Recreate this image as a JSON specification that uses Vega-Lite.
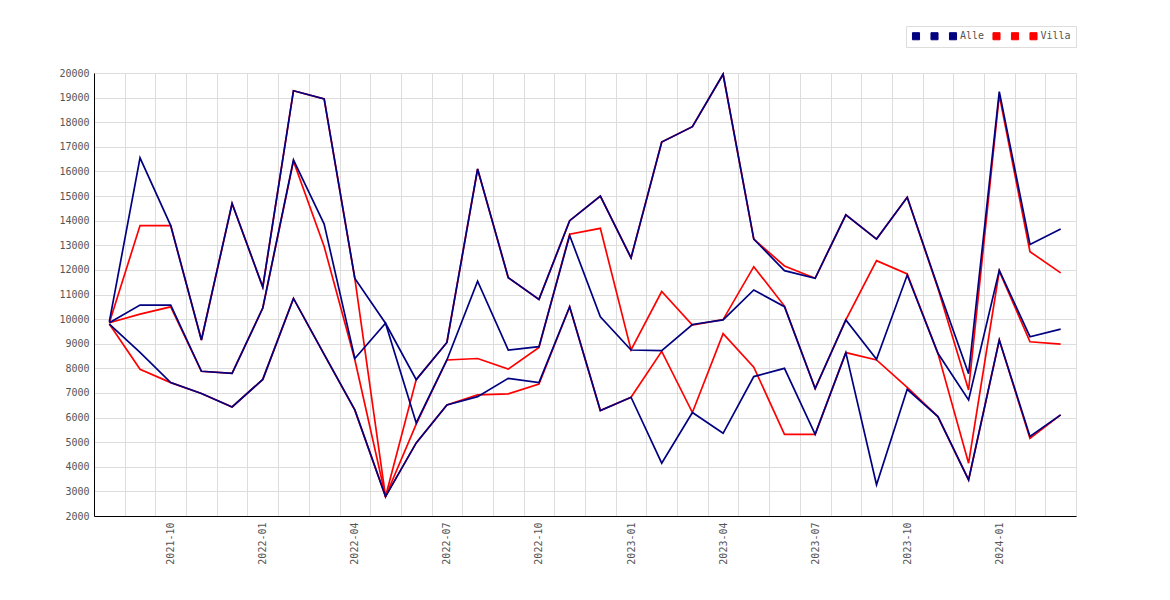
{
  "$schema": "https://vega.github.io/schema/vega-lite/v6.json",
  "width": 982,
  "height": 443,
  "autosize": {"type": "none"},
  "padding": {"left": 94, "top": 73, "right": 94, "bottom": 84},
  "config": {
    "view": {"stroke": "#dddddd"},
    "axis": {
      "labelFont": "DejaVu Sans Mono",
      "labelFontSize": 10,
      "labelColor": "#555555",
      "gridColor": "#dddddd",
      "gridWidth": 1,
      "domainColor": "#000000",
      "domainWidth": 1,
      "ticks": false
    }
  },
  "data": {
    "values": [
      {"month": "2021-08", "group": "Alle", "series": "alle_1", "value": 9900},
      {"month": "2021-09", "group": "Alle", "series": "alle_1", "value": 16550},
      {"month": "2021-10", "group": "Alle", "series": "alle_1", "value": 13800},
      {"month": "2021-11", "group": "Alle", "series": "alle_1", "value": 9150},
      {"month": "2021-12", "group": "Alle", "series": "alle_1", "value": 14700},
      {"month": "2022-01", "group": "Alle", "series": "alle_1", "value": 11300},
      {"month": "2022-02", "group": "Alle", "series": "alle_1", "value": 19280},
      {"month": "2022-03", "group": "Alle", "series": "alle_1", "value": 18950},
      {"month": "2022-04", "group": "Alle", "series": "alle_1", "value": 11650},
      {"month": "2022-05", "group": "Alle", "series": "alle_1", "value": 9830},
      {"month": "2022-06", "group": "Alle", "series": "alle_1", "value": 7540},
      {"month": "2022-07", "group": "Alle", "series": "alle_1", "value": 9050},
      {"month": "2022-08", "group": "Alle", "series": "alle_1", "value": 16100},
      {"month": "2022-09", "group": "Alle", "series": "alle_1", "value": 11680},
      {"month": "2022-10", "group": "Alle", "series": "alle_1", "value": 10800},
      {"month": "2022-11", "group": "Alle", "series": "alle_1", "value": 14000},
      {"month": "2022-12", "group": "Alle", "series": "alle_1", "value": 15000},
      {"month": "2023-01", "group": "Alle", "series": "alle_1", "value": 12490},
      {"month": "2023-02", "group": "Alle", "series": "alle_1", "value": 17195},
      {"month": "2023-03", "group": "Alle", "series": "alle_1", "value": 17820},
      {"month": "2023-04", "group": "Alle", "series": "alle_1", "value": 19950},
      {"month": "2023-05", "group": "Alle", "series": "alle_1", "value": 13250},
      {"month": "2023-06", "group": "Alle", "series": "alle_1", "value": 11970},
      {"month": "2023-07", "group": "Alle", "series": "alle_1", "value": 11660},
      {"month": "2023-08", "group": "Alle", "series": "alle_1", "value": 14240},
      {"month": "2023-09", "group": "Alle", "series": "alle_1", "value": 13250},
      {"month": "2023-10", "group": "Alle", "series": "alle_1", "value": 14950},
      {"month": "2023-11", "group": "Alle", "series": "alle_1", "value": 11300},
      {"month": "2023-12", "group": "Alle", "series": "alle_1", "value": 7780},
      {"month": "2024-01", "group": "Alle", "series": "alle_1", "value": 19240},
      {"month": "2024-02", "group": "Alle", "series": "alle_1", "value": 13035},
      {"month": "2024-03", "group": "Alle", "series": "alle_1", "value": 13660},

      {"month": "2021-08", "group": "Alle", "series": "alle_2", "value": 9850},
      {"month": "2021-09", "group": "Alle", "series": "alle_2", "value": 10570},
      {"month": "2021-10", "group": "Alle", "series": "alle_2", "value": 10570},
      {"month": "2021-11", "group": "Alle", "series": "alle_2", "value": 7880},
      {"month": "2021-12", "group": "Alle", "series": "alle_2", "value": 7800},
      {"month": "2022-01", "group": "Alle", "series": "alle_2", "value": 10450},
      {"month": "2022-02", "group": "Alle", "series": "alle_2", "value": 16470},
      {"month": "2022-03", "group": "Alle", "series": "alle_2", "value": 13860},
      {"month": "2022-04", "group": "Alle", "series": "alle_2", "value": 8400},
      {"month": "2022-05", "group": "Alle", "series": "alle_2", "value": 9830},
      {"month": "2022-06", "group": "Alle", "series": "alle_2", "value": 5780},
      {"month": "2022-07", "group": "Alle", "series": "alle_2", "value": 8340},
      {"month": "2022-08", "group": "Alle", "series": "alle_2", "value": 11545},
      {"month": "2022-09", "group": "Alle", "series": "alle_2", "value": 8745},
      {"month": "2022-10", "group": "Alle", "series": "alle_2", "value": 8880},
      {"month": "2022-11", "group": "Alle", "series": "alle_2", "value": 13400},
      {"month": "2022-12", "group": "Alle", "series": "alle_2", "value": 10095},
      {"month": "2023-01", "group": "Alle", "series": "alle_2", "value": 8745},
      {"month": "2023-02", "group": "Alle", "series": "alle_2", "value": 8720},
      {"month": "2023-03", "group": "Alle", "series": "alle_2", "value": 9780},
      {"month": "2023-04", "group": "Alle", "series": "alle_2", "value": 9970},
      {"month": "2023-05", "group": "Alle", "series": "alle_2", "value": 11185},
      {"month": "2023-06", "group": "Alle", "series": "alle_2", "value": 10505},
      {"month": "2023-07", "group": "Alle", "series": "alle_2", "value": 7180},
      {"month": "2023-08", "group": "Alle", "series": "alle_2", "value": 9965},
      {"month": "2023-09", "group": "Alle", "series": "alle_2", "value": 8365},
      {"month": "2023-10", "group": "Alle", "series": "alle_2", "value": 11790},
      {"month": "2023-11", "group": "Alle", "series": "alle_2", "value": 8610},
      {"month": "2023-12", "group": "Alle", "series": "alle_2", "value": 6715},
      {"month": "2024-01", "group": "Alle", "series": "alle_2", "value": 11980},
      {"month": "2024-02", "group": "Alle", "series": "alle_2", "value": 9285},
      {"month": "2024-03", "group": "Alle", "series": "alle_2", "value": 9595},

      {"month": "2021-08", "group": "Alle", "series": "Alle", "value": 9800},
      {"month": "2021-09", "group": "Alle", "series": "Alle", "value": 8650},
      {"month": "2021-10", "group": "Alle", "series": "Alle", "value": 7420},
      {"month": "2021-11", "group": "Alle", "series": "Alle", "value": 6980},
      {"month": "2021-12", "group": "Alle", "series": "Alle", "value": 6430},
      {"month": "2022-01", "group": "Alle", "series": "Alle", "value": 7550},
      {"month": "2022-02", "group": "Alle", "series": "Alle", "value": 10840},
      {"month": "2022-03", "group": "Alle", "series": "Alle", "value": 8570},
      {"month": "2022-04", "group": "Alle", "series": "Alle", "value": 6310},
      {"month": "2022-05", "group": "Alle", "series": "Alle", "value": 2790},
      {"month": "2022-06", "group": "Alle", "series": "Alle", "value": 4970},
      {"month": "2022-07", "group": "Alle", "series": "Alle", "value": 6515},
      {"month": "2022-08", "group": "Alle", "series": "Alle", "value": 6850},
      {"month": "2022-09", "group": "Alle", "series": "Alle", "value": 7595},
      {"month": "2022-10", "group": "Alle", "series": "Alle", "value": 7420},
      {"month": "2022-11", "group": "Alle", "series": "Alle", "value": 10500},
      {"month": "2022-12", "group": "Alle", "series": "Alle", "value": 6285},
      {"month": "2023-01", "group": "Alle", "series": "Alle", "value": 6825},
      {"month": "2023-02", "group": "Alle", "series": "Alle", "value": 4150},
      {"month": "2023-03", "group": "Alle", "series": "Alle", "value": 6205},
      {"month": "2023-04", "group": "Alle", "series": "Alle", "value": 5360},
      {"month": "2023-05", "group": "Alle", "series": "Alle", "value": 7665},
      {"month": "2023-06", "group": "Alle", "series": "Alle", "value": 8000},
      {"month": "2023-07", "group": "Alle", "series": "Alle", "value": 5320},
      {"month": "2023-08", "group": "Alle", "series": "Alle", "value": 8640},
      {"month": "2023-09", "group": "Alle", "series": "Alle", "value": 3270},
      {"month": "2023-10", "group": "Alle", "series": "Alle", "value": 7150},
      {"month": "2023-11", "group": "Alle", "series": "Alle", "value": 6040},
      {"month": "2023-12", "group": "Alle", "series": "Alle", "value": 3465},
      {"month": "2024-01", "group": "Alle", "series": "Alle", "value": 9150},
      {"month": "2024-02", "group": "Alle", "series": "Alle", "value": 5230},
      {"month": "2024-03", "group": "Alle", "series": "Alle", "value": 6110},

      {"month": "2021-08", "group": "Villa", "series": "villa_1", "value": 9850},
      {"month": "2021-09", "group": "Villa", "series": "villa_1", "value": 13800},
      {"month": "2021-10", "group": "Villa", "series": "villa_1", "value": 13800},
      {"month": "2021-11", "group": "Villa", "series": "villa_1", "value": 9150},
      {"month": "2021-12", "group": "Villa", "series": "villa_1", "value": 14700},
      {"month": "2022-01", "group": "Villa", "series": "villa_1", "value": 11300},
      {"month": "2022-02", "group": "Villa", "series": "villa_1", "value": 19280},
      {"month": "2022-03", "group": "Villa", "series": "villa_1", "value": 18950},
      {"month": "2022-04", "group": "Villa", "series": "villa_1", "value": 11650},
      {"month": "2022-05", "group": "Villa", "series": "villa_1", "value": 2790},
      {"month": "2022-06", "group": "Villa", "series": "villa_1", "value": 7540},
      {"month": "2022-07", "group": "Villa", "series": "villa_1", "value": 9050},
      {"month": "2022-08", "group": "Villa", "series": "villa_1", "value": 16100},
      {"month": "2022-09", "group": "Villa", "series": "villa_1", "value": 11680},
      {"month": "2022-10", "group": "Villa", "series": "villa_1", "value": 10800},
      {"month": "2022-11", "group": "Villa", "series": "villa_1", "value": 14000},
      {"month": "2022-12", "group": "Villa", "series": "villa_1", "value": 15000},
      {"month": "2023-01", "group": "Villa", "series": "villa_1", "value": 12490},
      {"month": "2023-02", "group": "Villa", "series": "villa_1", "value": 17195},
      {"month": "2023-03", "group": "Villa", "series": "villa_1", "value": 17820},
      {"month": "2023-04", "group": "Villa", "series": "villa_1", "value": 19950},
      {"month": "2023-05", "group": "Villa", "series": "villa_1", "value": 13250},
      {"month": "2023-06", "group": "Villa", "series": "villa_1", "value": 12160},
      {"month": "2023-07", "group": "Villa", "series": "villa_1", "value": 11660},
      {"month": "2023-08", "group": "Villa", "series": "villa_1", "value": 14240},
      {"month": "2023-09", "group": "Villa", "series": "villa_1", "value": 13250},
      {"month": "2023-10", "group": "Villa", "series": "villa_1", "value": 14950},
      {"month": "2023-11", "group": "Villa", "series": "villa_1", "value": 11250},
      {"month": "2023-12", "group": "Villa", "series": "villa_1", "value": 7120},
      {"month": "2024-01", "group": "Villa", "series": "villa_1", "value": 19100},
      {"month": "2024-02", "group": "Villa", "series": "villa_1", "value": 12740},
      {"month": "2024-03", "group": "Villa", "series": "villa_1", "value": 11880},

      {"month": "2021-08", "group": "Villa", "series": "villa_2", "value": 9850},
      {"month": "2021-09", "group": "Villa", "series": "villa_2", "value": 10200},
      {"month": "2021-10", "group": "Villa", "series": "villa_2", "value": 10500},
      {"month": "2021-11", "group": "Villa", "series": "villa_2", "value": 7880},
      {"month": "2021-12", "group": "Villa", "series": "villa_2", "value": 7800},
      {"month": "2022-01", "group": "Villa", "series": "villa_2", "value": 10450},
      {"month": "2022-02", "group": "Villa", "series": "villa_2", "value": 16420},
      {"month": "2022-03", "group": "Villa", "series": "villa_2", "value": 12950},
      {"month": "2022-04", "group": "Villa", "series": "villa_2", "value": 8350},
      {"month": "2022-05", "group": "Villa", "series": "villa_2", "value": 2790},
      {"month": "2022-06", "group": "Villa", "series": "villa_2", "value": 5730},
      {"month": "2022-07", "group": "Villa", "series": "villa_2", "value": 8340},
      {"month": "2022-08", "group": "Villa", "series": "villa_2", "value": 8400},
      {"month": "2022-09", "group": "Villa", "series": "villa_2", "value": 7970},
      {"month": "2022-10", "group": "Villa", "series": "villa_2", "value": 8850},
      {"month": "2022-11", "group": "Villa", "series": "villa_2", "value": 13450},
      {"month": "2022-12", "group": "Villa", "series": "villa_2", "value": 13690},
      {"month": "2023-01", "group": "Villa", "series": "villa_2", "value": 8745},
      {"month": "2023-02", "group": "Villa", "series": "villa_2", "value": 11120},
      {"month": "2023-03", "group": "Villa", "series": "villa_2", "value": 9760},
      {"month": "2023-04", "group": "Villa", "series": "villa_2", "value": 9980},
      {"month": "2023-05", "group": "Villa", "series": "villa_2", "value": 12130},
      {"month": "2023-06", "group": "Villa", "series": "villa_2", "value": 10530},
      {"month": "2023-07", "group": "Villa", "series": "villa_2", "value": 7180},
      {"month": "2023-08", "group": "Villa", "series": "villa_2", "value": 9965},
      {"month": "2023-09", "group": "Villa", "series": "villa_2", "value": 12375},
      {"month": "2023-10", "group": "Villa", "series": "villa_2", "value": 11835},
      {"month": "2023-11", "group": "Villa", "series": "villa_2", "value": 8610},
      {"month": "2023-12", "group": "Villa", "series": "villa_2", "value": 4145},
      {"month": "2024-01", "group": "Villa", "series": "villa_2", "value": 11950},
      {"month": "2024-02", "group": "Villa", "series": "villa_2", "value": 9080},
      {"month": "2024-03", "group": "Villa", "series": "villa_2", "value": 8985},

      {"month": "2021-08", "group": "Villa", "series": "Villa", "value": 9800},
      {"month": "2021-09", "group": "Villa", "series": "Villa", "value": 7960},
      {"month": "2021-10", "group": "Villa", "series": "Villa", "value": 7420},
      {"month": "2021-11", "group": "Villa", "series": "Villa", "value": 6980},
      {"month": "2021-12", "group": "Villa", "series": "Villa", "value": 6430},
      {"month": "2022-01", "group": "Villa", "series": "Villa", "value": 7550},
      {"month": "2022-02", "group": "Villa", "series": "Villa", "value": 10840},
      {"month": "2022-03", "group": "Villa", "series": "Villa", "value": 8570},
      {"month": "2022-04", "group": "Villa", "series": "Villa", "value": 6300},
      {"month": "2022-05", "group": "Villa", "series": "Villa", "value": 2790},
      {"month": "2022-06", "group": "Villa", "series": "Villa", "value": 4970},
      {"month": "2022-07", "group": "Villa", "series": "Villa", "value": 6515},
      {"month": "2022-08", "group": "Villa", "series": "Villa", "value": 6920},
      {"month": "2022-09", "group": "Villa", "series": "Villa", "value": 6960},
      {"month": "2022-10", "group": "Villa", "series": "Villa", "value": 7365},
      {"month": "2022-11", "group": "Villa", "series": "Villa", "value": 10500},
      {"month": "2022-12", "group": "Villa", "series": "Villa", "value": 6285},
      {"month": "2023-01", "group": "Villa", "series": "Villa", "value": 6825},
      {"month": "2023-02", "group": "Villa", "series": "Villa", "value": 8690},
      {"month": "2023-03", "group": "Villa", "series": "Villa", "value": 6205},
      {"month": "2023-04", "group": "Villa", "series": "Villa", "value": 9410},
      {"month": "2023-05", "group": "Villa", "series": "Villa", "value": 8050},
      {"month": "2023-06", "group": "Villa", "series": "Villa", "value": 5320},
      {"month": "2023-07", "group": "Villa", "series": "Villa", "value": 5320},
      {"month": "2023-08", "group": "Villa", "series": "Villa", "value": 8640},
      {"month": "2023-09", "group": "Villa", "series": "Villa", "value": 8340},
      {"month": "2023-10", "group": "Villa", "series": "Villa", "value": 7230},
      {"month": "2023-11", "group": "Villa", "series": "Villa", "value": 6040},
      {"month": "2023-12", "group": "Villa", "series": "Villa", "value": 3465},
      {"month": "2024-01", "group": "Villa", "series": "Villa", "value": 9150},
      {"month": "2024-02", "group": "Villa", "series": "Villa", "value": 5160},
      {"month": "2024-03", "group": "Villa", "series": "Villa", "value": 6110}
    ]
  },
  "encoding": {
    "x": {
      "field": "month",
      "type": "ordinal",
      "title": null,
      "scale": {"type": "band", "paddingInner": 0, "paddingOuter": 0},
      "axis": {
        "tickBand": "extent",
        "grid": true,
        "labelAngle": -90,
        "labelAlign": "right",
        "labelBaseline": "middle",
        "labelPadding": 6,
        "labelOverlap": false,
        "labelExpr": "isString(datum.value) && indexof(['01', '04', '07', '10'], substring(datum.value, 5, 7)) >= 0 ? datum.value : ''"
      }
    },
    "y": {
      "field": "value",
      "type": "quantitative",
      "title": null,
      "scale": {"domain": [2000, 20000], "nice": false, "zero": false},
      "axis": {
        "values": [2000, 3000, 4000, 5000, 6000, 7000, 8000, 9000, 10000, 11000, 12000, 13000, 14000, 15000, 16000, 17000, 18000, 19000, 20000],
        "format": "d",
        "labelPadding": 5
      }
    },
    "color": {
      "field": "series",
      "type": "nominal",
      "scale": {
        "domain": ["alle_1", "alle_2", "Alle", "villa_1", "villa_2", "Villa"],
        "range": ["#000080", "#000080", "#000080", "#ff0000", "#ff0000", "#ff0000"]
      },
      "legend": {
        "title": null,
        "orient": "none",
        "legendX": 812,
        "legendY": -47,
        "direction": "horizontal",
        "symbolType": "square",
        "symbolSize": 50,
        "symbolStrokeWidth": 1,
        "labelFont": "DejaVu Sans Mono",
        "labelFontSize": 10,
        "labelColor": "#555555",
        "labelOffset": 2,
        "columnPadding": 5.5,
        "padding": 5,
        "strokeColor": "#dddddd",
        "fillColor": "#ffffff",
        "labelExpr": "datum.label == 'Alle' || datum.label == 'Villa' ? datum.label : ' '",
        "encode": {
          "symbols": {
            "update": {
              "fill": {"scale": "color", "field": "value"},
              "fillOpacity": {"value": 1},
              "stroke": {"value": "#777777"}
            }
          }
        }
      }
    }
  },
  "layer": [
    {
      "transform": [{"filter": "datum.group == 'Villa'"}],
      "mark": {"type": "line", "strokeWidth": 1.7}
    },
    {
      "transform": [{"filter": "datum.group == 'Alle'"}],
      "mark": {"type": "line", "strokeWidth": 1.7}
    }
  ]
}
